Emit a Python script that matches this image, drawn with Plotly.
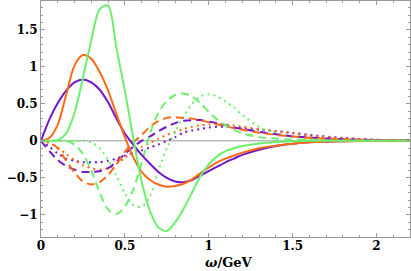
import plotly.graph_objects as go

omega = [0.0, 0.05, 0.1, 0.15, 0.2, 0.25, 0.3, 0.35, 0.4, 0.45, 0.5, 0.55, 0.6, 0.65,
         0.7, 0.75, 0.8, 0.85, 0.9, 0.95, 1.0, 1.05, 1.1, 1.15, 1.2, 1.3, 1.4, 1.5,
         1.6, 1.8, 2.0, 2.2]

purple_solid = [0.0, 0.29, 0.51, 0.68, 0.79, 0.83, 0.79, 0.69, 0.52, 0.30, 0.10, -0.05,
                -0.19, -0.31, -0.42, -0.50, -0.55, -0.56, -0.53, -0.47, -0.41, -0.35,
                -0.29, -0.24, -0.19, -0.12, -0.07, -0.04, -0.02, -0.005, 0.0, 0.0]
orange_solid = [0.0, 0.04, 0.22, 0.62, 1.02, 1.16, 1.11, 0.93, 0.68, 0.36, 0.05, -0.22,
                -0.42, -0.53, -0.59, -0.62, -0.61, -0.58, -0.52, -0.44, -0.36, -0.29,
                -0.24, -0.2, -0.16, -0.1, -0.065, -0.04, -0.02, -0.005, 0.0, 0.0]
green_solid = [0.0, 0.0, 0.01, 0.1, 0.38, 0.85, 1.36, 1.78, 1.83, 1.25, 0.68, 0.04,
               -0.55, -0.95, -1.17, -1.22, -1.10, -0.92, -0.70, -0.48, -0.32, -0.21,
               -0.14, -0.10, -0.07, -0.035, -0.015, -0.005, 0.0, 0.0, 0.0, 0.0]

purple_dashed = [0.0, -0.14, -0.26, -0.34, -0.39, -0.42, -0.42, -0.41, -0.37, -0.28,
                 -0.18, -0.08, 0.0, 0.06, 0.13, 0.19, 0.24, 0.27, 0.28, 0.28, 0.26,
                 0.24, 0.21, 0.18, 0.16, 0.12, 0.09, 0.06, 0.045, 0.02, 0.01, 0.005]
orange_dashed = [0.0, -0.02, -0.1, -0.27, -0.43, -0.55, -0.59, -0.56, -0.46, -0.32,
                 -0.15, -0.02, 0.08, 0.19, 0.27, 0.31, 0.32, 0.31, 0.30, 0.28, 0.25,
                 0.22, 0.20, 0.17, 0.15, 0.11, 0.08, 0.06, 0.04, 0.02, 0.01, 0.005]
green_dashed = [0.0, 0.0, 0.0, 0.0, -0.05, -0.18, -0.4, -0.7, -0.93, -0.99, -0.89,
                -0.66, -0.30, 0.10, 0.38, 0.54, 0.62, 0.64, 0.60, 0.51, 0.39, 0.29,
                0.21, 0.15, 0.10, 0.05, 0.03, 0.015, 0.01, 0.0, 0.0, 0.0]

purple_dotted = [0.0, -0.08, -0.17, -0.24, -0.27, -0.29, -0.29, -0.29, -0.27, -0.24,
                 -0.2, -0.16, -0.13, -0.09, -0.05, 0.0, 0.05, 0.11, 0.14, 0.16, 0.18,
                 0.19, 0.19, 0.18, 0.17, 0.15, 0.13, 0.11, 0.08, 0.04, 0.015, 0.005]
orange_dotted = [0.0, -0.03, -0.09, -0.18, -0.26, -0.33, -0.37, -0.39, -0.37, -0.31,
                 -0.23, -0.15, -0.08, -0.03, 0.03, 0.08, 0.12, 0.16, 0.19, 0.21, 0.22,
                 0.23, 0.22, 0.21, 0.19, 0.16, 0.13, 0.10, 0.07, 0.035, 0.012, 0.004]
green_dotted = [0.0, 0.0, 0.0, 0.0, 0.0, 0.0, -0.02, -0.1, -0.26, -0.47, -0.71, -0.87,
                -0.89, -0.75, -0.40, -0.10, 0.12, 0.33, 0.50, 0.60, 0.63, 0.60, 0.53,
                0.45, 0.35, 0.19, 0.10, 0.05, 0.025, 0.005, 0.0, 0.0]

x_ticks = [0, 0.5, 1, 1.5, 2]
x_labels = ["0", "0.5", "1", "1.5", "2"]
y_ticks = [-1, -0.5, 0, 0.5, 1, 1.5]
y_labels = ["\u22121", "\u22120.5", "0", "0.5", "1", "1.5"]

PURPLE = "#7219c6"
ORANGE = "#fb6a16"
GREEN = "#6cf06c"

series = [
    (purple_dotted, PURPLE, "2px,4px"),
    (orange_dotted, ORANGE, "2px,4px"),
    (green_dotted, GREEN, "2px,4px"),
    (purple_dashed, PURPLE, "8px,5px"),
    (orange_dashed, ORANGE, "8px,5px"),
    (green_dashed, GREEN, "8px,5px"),
    (purple_solid, PURPLE, "solid"),
    (orange_solid, ORANGE, "solid"),
    (green_solid, GREEN, "solid"),
]

fig = go.Figure()
fig.add_hline(y=0, line=dict(color="#999999", width=1), layer="below")
for ys, col, dash in series:
    fig.add_trace(go.Scatter(x=omega, y=ys, mode="lines",
                             line=dict(color=col, width=2, dash=dash,
                                       shape="spline", smoothing=0.8),
                             showlegend=False, hoverinfo="skip"))

font = dict(family="DejaVu Serif", size=12, color="black", weight="bold")
axis_common = dict(showgrid=False, zeroline=False, showline=True,
                   linecolor="#999999", linewidth=1, mirror="ticks",
                   ticks="inside", ticklen=4, tickcolor="#999999",
                   tickfont=font, automargin=False)
fig.update_layout(
    width=411, height=271,
    margin=dict(l=41, r=1, t=1, b=34),
    paper_bgcolor="white", plot_bgcolor="white",
    xaxis=dict(range=[0, 2.2], tickvals=x_ticks, ticktext=x_labels,
               ticklabelstandoff=-2,
               minor=dict(dtick=0.1, ticks="inside", ticklen=2, tickcolor="#999999"),
               **axis_common),
    yaxis=dict(range=[-1.3, 1.89], tickvals=y_ticks, ticktext=y_labels,
               minor=dict(dtick=0.1, ticks="inside", ticklen=2, tickcolor="#999999"),
               **axis_common),
    annotations=[dict(text="<i>ω</i>/GeV", x=1.12, xref="x", y=0, yref="paper",
                      yshift=-25, yanchor="middle", showarrow=False, borderpad=0,
                      font=dict(family="DejaVu Serif", size=13, color="black",
                                weight="bold"))],
)
fig.write_html("out.html", config={"displayModeBar": False},
               post_script="document.body.style.margin='0';document.body.style.overflow='hidden';")
